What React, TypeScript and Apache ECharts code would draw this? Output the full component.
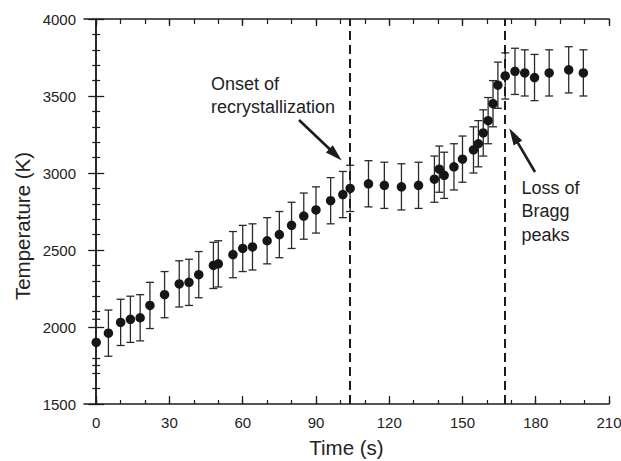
import React, { useEffect, useRef } from "react";
import * as echarts from "echarts";

const timeS = [0, 5, 10, 14, 18, 22, 28, 34, 38, 42, 48, 50, 56, 60, 64, 70, 75, 80, 85, 90, 96, 101, 104, 111.5, 118, 125, 132, 138.5, 140.5, 142.5, 146.5, 150, 154.5, 156.5, 158.5, 160.5, 162.5, 164.5, 167.5, 171.5, 175.5, 179.5, 185.5, 193.5, 199.5];
const tempK = [1900, 1960, 2030, 2050, 2060, 2140, 2210, 2280, 2290, 2340, 2400, 2410, 2470, 2510, 2520, 2560, 2600, 2660, 2720, 2760, 2820, 2860, 2900, 2930, 2920, 2910, 2920, 2960, 3025, 2985, 3040, 3090, 3150, 3190, 3260, 3340, 3450, 3570, 3630, 3660, 3650, 3620, 3650, 3670, 3650];
const errK = [150, 150, 150, 150, 150, 150, 150, 150, 150, 150, 150, 150, 150, 150, 150, 150, 150, 150, 150, 150, 150, 150, 150, 150, 150, 150, 150, 150, 150, 150, 150, 150, 150, 150, 150, 150, 150, 150, 150, 150, 150, 150, 150, 150, 150];
const eventTimes = [104, 167.5];
const xMajorTicks = [0, 30, 60, 90, 120, 150, 180, 210];
const xMinorTicks = [0, 10, 20, 30, 40, 50, 60, 70, 80, 90, 100, 110, 120, 130, 140, 150, 160, 170, 180, 190, 200, 210];

const FONT = "'Liberation Sans', Arial, Helvetica, sans-serif";
const INK = "#1c1c1c";

function arrow(tx: number, ty: number, px: number, py: number) {
  const dx = px - tx, dy = py - ty;
  const L = Math.hypot(dx, dy);
  const ux = dx / L, uy = dy / L;
  const nx = -uy, ny = ux;
  const hl = 17, hw = 5;
  return [
    { type: "line", shape: { x1: tx, y1: ty, x2: px - ux * 12, y2: py - uy * 12 }, style: { stroke: INK, lineWidth: 2.6 } },
    {
      type: "polygon",
      shape: { points: [[px, py], [px - ux * hl + nx * hw, py - uy * hl + ny * hw], [px - ux * hl - nx * hw, py - uy * hl - ny * hw]] },
      style: { fill: INK },
    },
  ];
}

export default function App() {
  const ref = useRef<HTMLDivElement>(null);
  useEffect(() => {
    const chart = echarts.init(ref.current!, null, { renderer: "svg" });
    const pts = timeS.map((t, i) => [t, tempK[i]]);
    const errs = timeS.map((t, i) => [t, tempK[i] - errK[i], tempK[i] + errK[i]]);
    const xBase = { type: "value", min: -5, max: 210, splitLine: { show: false } };
    chart.setOption({
      animation: false,
      backgroundColor: "#ffffff",
      grid: { left: 84, top: 19, right: 12, bottom: 57, outerBoundsMode: "none", containLabel: false },
      xAxis: [
        {
          ...xBase,
          position: "bottom",
          axisLine: { show: true, lineStyle: { color: INK, width: 1.5 } },
          axisTick: { show: true, inside: true, length: 8, customValues: xMajorTicks, lineStyle: { color: INK, width: 1.3 } },
          axisLabel: { show: true, customValues: xMajorTicks, margin: 11, fontSize: 15, color: "#222", fontFamily: FONT, formatter: (v: number) => String(v) },
          name: "Time (s)",
          nameLocation: "middle",
          nameGap: 33,
          nameTextStyle: { fontSize: 20.5, color: "#222", fontFamily: FONT },
        },
        {
          ...xBase,
          position: "bottom",
          axisLine: { show: false },
          axisTick: { show: true, inside: true, length: 4, customValues: xMinorTicks, lineStyle: { color: INK, width: 1.2 } },
          axisLabel: { show: false },
        },
        {
          ...xBase,
          position: "top",
          axisLine: { show: true, lineStyle: { color: INK, width: 1.5 } },
          axisTick: { show: true, inside: true, length: 7, customValues: xMajorTicks, lineStyle: { color: INK, width: 1.3 } },
          axisLabel: { show: false },
        },
        {
          ...xBase,
          position: "top",
          axisLine: { show: false },
          axisTick: { show: true, inside: true, length: 5, customValues: xMinorTicks, lineStyle: { color: INK, width: 1.2 } },
          axisLabel: { show: false },
        },
      ],
      yAxis: [
        {
          type: "value",
          min: 1500,
          max: 4000,
          interval: 500,
          position: "left",
          splitLine: { show: false },
          axisLine: { show: true, lineStyle: { color: INK, width: 1.5 } },
          axisTick: { show: true, inside: true, length: 8, lineStyle: { color: INK, width: 1.3 } },
          minorTick: { show: true, splitNumber: 5, length: 4, lineStyle: { color: INK, width: 1.2 } },
          axisLabel: { fontSize: 15, color: "#222", margin: 8, fontFamily: FONT, formatter: (v: number) => String(v) },
        },
        {
          type: "value",
          min: 1500,
          max: 4000,
          interval: 500,
          position: "right",
          splitLine: { show: false },
          axisLine: { show: true, lineStyle: { color: INK, width: 1.5 } },
          axisTick: { show: true, inside: true, length: 8, lineStyle: { color: INK, width: 1.3 } },
          minorTick: { show: true, splitNumber: 5, length: 4, lineStyle: { color: INK, width: 1.2 } },
          axisLabel: { show: false },
        },
      ],
      series: [
        {
          type: "custom",
          xAxisIndex: 0,
          yAxisIndex: 0,
          data: errs,
          clip: false,
          renderItem: (params: any, api: any) => {
            const x = api.value(0);
            const lo = api.coord([x, api.value(1)]);
            const hi = api.coord([x, api.value(2)]);
            const cw = 4;
            const st = { stroke: "#2a2a2a", lineWidth: 1.3 };
            return {
              type: "group",
              children: [
                { type: "line", shape: { x1: lo[0], y1: lo[1], x2: hi[0], y2: hi[1] }, style: st },
                { type: "line", shape: { x1: lo[0] - cw, y1: lo[1], x2: lo[0] + cw, y2: lo[1] }, style: st },
                { type: "line", shape: { x1: hi[0] - cw, y1: hi[1], x2: hi[0] + cw, y2: hi[1] }, style: st },
              ],
            };
          },
          z: 2,
        },
        {
          type: "scatter",
          xAxisIndex: 0,
          yAxisIndex: 0,
          data: pts,
          symbol: "circle",
          symbolSize: 9.5,
          itemStyle: { color: "#161616", opacity: 1 },
          z: 3,
          markLine: {
            silent: true,
            symbol: ["none", "none"],
            label: { show: false },
            lineStyle: { color: INK, width: 2, type: [9, 5] },
            data: eventTimes.map((t) => ({ xAxis: t })),
          },
        },
      ],
      graphic: [
        {
          type: "text",
          x: 22,
          y: 226,
          rotation: Math.PI / 2,
          style: { text: "Temperature (K)", font: `20.5px ${FONT}`, fill: "#222", align: "center", verticalAlign: "middle" },
        },
        {
          type: "text",
          x: 211,
          y: 72,
          style: { text: "Onset of\nrecrystallization", font: `18px ${FONT}`, lineHeight: 23, fill: "#222", align: "left", verticalAlign: "top" },
        },
        {
          type: "text",
          x: 521.5,
          y: 176,
          style: { text: "Loss of\nBragg\npeaks", font: `18px ${FONT}`, lineHeight: 23.5, fill: "#222", align: "left", verticalAlign: "top" },
        },
        ...arrow(299, 120, 341.7, 160.5),
        ...arrow(535, 172, 509.3, 128.3),
      ],
    });
    return () => chart.dispose();
  }, []);
  return <div ref={ref} style={{ position: "absolute", left: 0, top: 0, width: 621, height: 461 }} />;
}
